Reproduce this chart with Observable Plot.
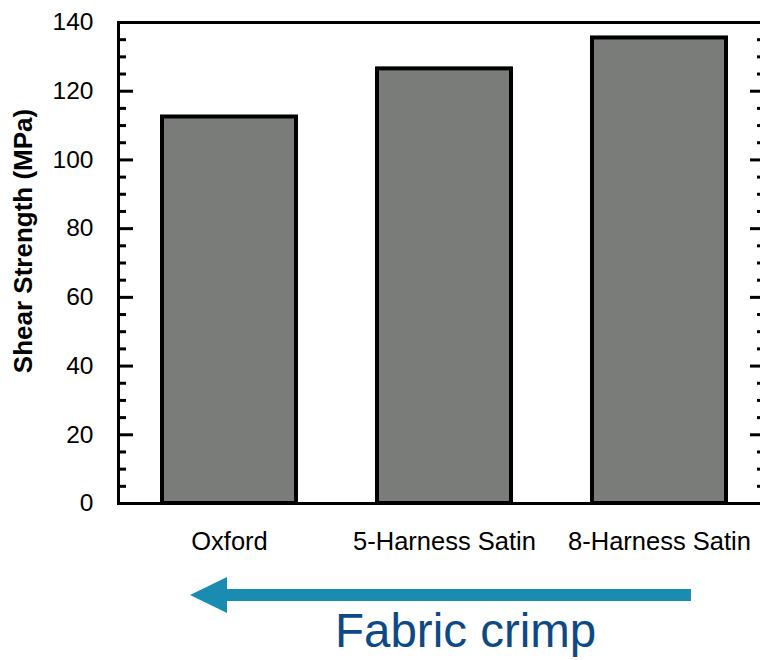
<!DOCTYPE html>
<html>
<head>
<meta charset="utf-8">
<script src="https://cdn.jsdelivr.net/npm/d3@7"></script>
<script src="https://cdn.jsdelivr.net/npm/@observablehq/plot@0.6"></script>
<style>
  html, body { margin: 0; padding: 0; background: #fff; overflow: hidden; width: 760px; height: 660px; }
  #chart svg { display: block; overflow: hidden; }
  #caption { position: relative; width: 760px; height: 100px; }
</style>
</head>
<body>
<div id="chart"></div>
<div id="caption">
  <svg width="760" height="100" style="position:absolute;left:0;top:0">
    <path d="M691,29 L227,29 L227,17 L190,35 L227,53 L227,41 L691,41 Z" fill="#1a8cb2"/>
  </svg>
  <div style="position:absolute;left:335px;top:47px;font-family:'Liberation Sans',Arial,sans-serif;font-size:47.5px;line-height:47.5px;color:#0d4a85;white-space:nowrap">Fabric crimp</div>
</div>
<script>
const fabrics = ["Oxford", "5-Harness Satin", "8-Harness Satin"];
const shearStrength = [112.5, 126.5, 135.5];
const yMajorTicks = [0, 20, 40, 60, 80, 100, 120, 140];
const yMinorTicks = [5, 10, 15, 25, 30, 35, 45, 50, 55, 65, 70, 75, 85, 90, 95, 105, 110, 115, 125, 130, 135];
const yTitle = "Shear Strength (MPa)";

const data = fabrics.map((f, i) => ({fabric: f, value: shearStrength[i]}));

const font = "'Liberation Sans', Arial, sans-serif";

const chart = Plot.plot({
  width: 760,
  height: 560,
  marginTop: 22,
  marginBottom: 57,
  marginLeft: 118,
  marginRight: -4,
  style: {fontFamily: font, fontSize: "24px", color: "#000", background: "#fff"},
  x: {domain: fabrics, paddingInner: 0.378, paddingOuter: 0.188, align: 0.54, label: null},
  y: {domain: [0, 140], label: null},
  marks: [
    Plot.barY(data, {x: "fabric", y: "value", fill: "#7a7c79", stroke: "#000", strokeWidth: 4}),
    Plot.frame({stroke: "#000", strokeWidth: 3}),
    Plot.axisY(yMajorTicks, {anchor: "left", tickSize: -15, text: null, strokeWidth: 3, label: null}),
    Plot.axisY(yMinorTicks, {anchor: "left", tickSize: -8, text: null, strokeWidth: 3, label: null}),
    Plot.axisY(yMajorTicks, {anchor: "right", tickSize: -15, text: null, strokeWidth: 3, label: null}),
    Plot.axisY(yMinorTicks, {anchor: "right", tickSize: -8, text: null, strokeWidth: 3, label: null}),
    Plot.axisY(yMajorTicks, {anchor: "left", tickSize: 0, tickPadding: 25, fontSize: 24.5, label: null}),
    Plot.axisX({anchor: "bottom", tickSize: 0, tickPadding: 28, fontSize: 25.5, label: null}),
    Plot.text([yTitle], {frameAnchor: "left", textAnchor: "middle", rotate: -90, dx: -95, dy: -22, fontSize: 26, fontWeight: "bold", fill: "#000"})
  ]
});
document.getElementById("chart").appendChild(chart);
</script>
</body>
</html>
